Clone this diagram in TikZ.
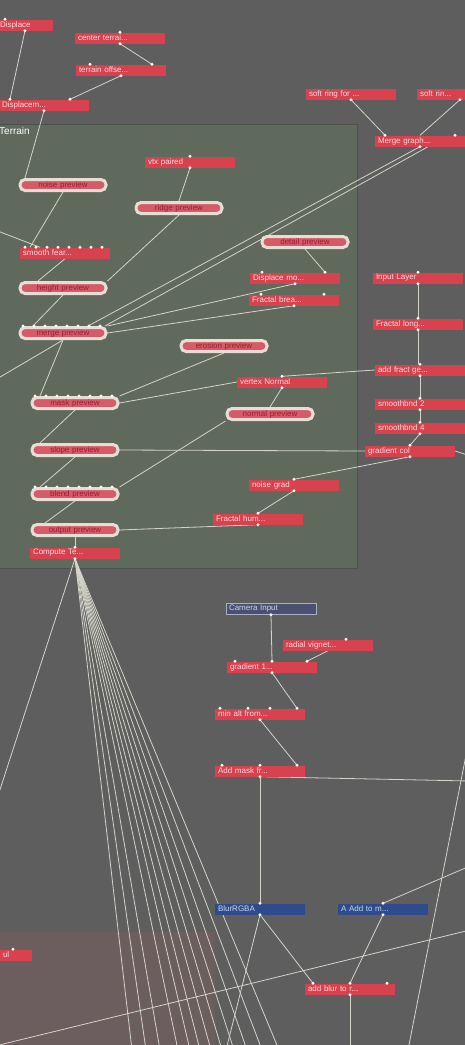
\documentclass[tikz,border=0pt]{standalone}
\usepackage{fontspec}
\setsansfont{Liberation Sans}
\usetikzlibrary{positioning}

\definecolor{bggray}{HTML}{5E5E5E}
\definecolor{terrainfill}{HTML}{5F6A5D}
\definecolor{terrainrim}{HTML}{4C524B}
\definecolor{pinkzone}{HTML}{6C5D5E}
\definecolor{nodered}{HTML}{D8424F}
\definecolor{redtext}{HTML}{F7D9DB}
\definecolor{pillfill}{HTML}{D65B68}
\definecolor{pilltext}{HTML}{9C1C33}
\definecolor{pillrim}{HTML}{E6DED4}
\definecolor{wirecol}{HTML}{D4D4CA}
\definecolor{blurblue}{HTML}{2E4C8C}
\definecolor{bluetext}{HTML}{CAD5F2}
\definecolor{camfill}{HTML}{4B5070}
\definecolor{camrim}{HTML}{A9AECB}

\pgfdeclarelayer{frames}
\pgfdeclarelayer{wires}
\pgfsetlayers{frames,wires,main}

\tikzset{
  wire/.style={draw=wirecol, line width=0.8pt},
  rednode/.style={fill=nodered, text=redtext, font=\sffamily\fontsize{8}{9}\selectfont,
    text width=84pt, inner xsep=3pt, inner ysep=1.5pt, minimum height=11pt, align=left},
  pillnode/.style={rednode, fill=pillfill, text=pilltext, draw=pillrim, line width=3pt,
    rounded corners=5pt, text width=80pt, align=center},
  bluenode/.style={rednode, fill=blurblue, text=bluetext},
  camnode/.style={rednode, fill=camfill, draw=camrim, text=bluetext, line width=0.6pt},
  port/.style={fill=white!92!pink}
}

\begin{document}
\begin{tikzpicture}[x=1pt,y=-1pt]
  \useasboundingbox (0,0) rectangle (465,1045);
  \clip (0,0) rectangle (465,1045);

  % frames
  \begin{pgfonlayer}{frames}
    \fill[bggray] (0,0) rectangle (465,1045);
    \fill[pinkzone] (-5,932) rectangle (215,1050);
    \filldraw[fill=terrainfill, draw=terrainrim, line width=1pt] (-5,124) rectangle (357,568);
  \end{pgfonlayer}
  \node[anchor=west, text=white, font=\sffamily\fontsize{10}{11}\selectfont, inner sep=0pt] (terrainLabel) at (-1,131) {Terrain};

  % top nodes
  \node[rednode, text width=50pt] (displace) at (25,25) {Displace};
  \node[rednode] (centerTerrain) at (120,38) {center terrai...};
  \node[rednode] (terrainOffset) at (121,70) {terrain offse...};
  \node[rednode] (displacem) at (44,105) {Displacem...};
  \node[rednode] (softRingA) at (351,94) {soft ring for ...};
  \node[rednode] (softRingB) at (462,94) {soft rin...};
  \node[rednode] (mergeGraph) at (420,141) {Merge graph...};

  % terrain group
  \node[rednode] (vtxPaired) at (190,162) {vtx paired};
  \node[pillnode] (pNoise) at (63,185) {noise preview};
  \node[pillnode] (pRidge) at (179,208) {ridge preview};
  \node[pillnode] (pDetail) at (305,242) {detail preview};
  \node[rednode] (smoothFear) at (65,253) {smooth fear...};
  \node[rednode] (displaceMo) at (295,278) {Displace mo...};
  \node[pillnode] (pHeight) at (63,288) {height preview};
  \node[rednode] (fractalBrea) at (294,300) {Fractal brea...};
  \node[pillnode] (pMerge) at (63,333) {merge preview};
  \node[pillnode] (pErosion) at (224,346) {erosion preview};
  \node[rednode] (vertexNormal) at (282,382) {vertex Normal};
  \node[pillnode] (pMask) at (75,403) {mask preview};
  \node[pillnode] (pNormal) at (270,414) {normal preview};
  \node[pillnode] (pSlope) at (75,450) {slope preview};
  \node[rednode] (noiseGrad) at (294,485) {noise grad};
  \node[pillnode] (pBlend) at (75,494) {blend preview};
  \node[rednode] (fractalHum) at (258,519) {Fractal hum...};
  \node[pillnode] (pOutput) at (75,530) {output preview};
  \node[rednode] (computeTe) at (75,553) {Compute Te...};

  % right column
  \node[rednode] (inputLayer) at (418,278) {Input Layer};
  \node[rednode] (fractalLong) at (418,324) {Fractal long...};
  \node[rednode] (addFract) at (420,370) {add fract ge...};
  \node[rednode] (smoothBndTwo) at (420,404) {smoothbnd 2};
  \node[rednode] (smoothBndFour) at (420,428) {smoothbnd 4};
  \node[rednode] (gradientCol) at (410,451) {gradient col};

  % lower nodes
  \node[camnode] (camera) at (271,609) {Camera Input};
  \node[rednode] (radialVig) at (328,645) {radial vignet...};
  \node[rednode] (gradientOne) at (272,667) {gradient 1...};
  \node[rednode] (minAlt) at (260,714) {min alt from...};
  \node[rednode] (addMask) at (260,771) {Add mask fr...};
  \node[bluenode] (blurRGBA) at (260,909) {BlurRGBA};
  \node[bluenode] (addToM) at (383,909) {A Add to m...};
  \node[rednode] (addBlur) at (350,989) {add blur to r...};
  \node[rednode, text width=26pt] (leftCut) at (16,955) {ul};

  % free ends
  \coordinate (inA) at (-5,230);
  \coordinate (inB) at (-5,380);
  \coordinate (inC) at (470,358);
  \coordinate (outB) at (470,456);
  \coordinate (outC) at (-5,805);
  \coordinate (outD) at (470,781);
  \coordinate (outE) at (226,1050);
  \coordinate (outF) at (470,866);
  \coordinate (outG) at (350,1050);
  \coordinate (lineA) at (468,745);
  \coordinate (lineB) at (408,1050);
  \coordinate (lineC) at (-5,1046);
  \coordinate (lineD) at (470,930);

  \begin{pgfonlayer}{wires}
    % top
    \draw[wire] (displace.south) -- ([xshift=-34pt]displacem.north);
    \draw[wire] (centerTerrain.south) -- ([xshift=31pt]terrainOffset.north);
    \draw[wire] (terrainOffset.south) -- ([xshift=26pt]displacem.north);
    \draw[wire] (displacem.south) -- ([xshift=-38pt]pNoise.north);
    \draw[wire] (softRingA.south) -- ([xshift=-35pt]mergeGraph.north);
    \draw[wire] ([xshift=-2pt]softRingB.south) -- (mergeGraph.north);
    \draw[wire] (mergeGraph.south) -- ([xshift=25pt]pMerge.north);
    \draw[wire] ([xshift=8pt]mergeGraph.south) -- ([xshift=42pt]pMerge.north);
    % terrain
    \draw[wire] (inA) -- ([xshift=-25pt]smoothFear.north);
    \draw[wire] (pNoise.south) -- ([xshift=-35pt]smoothFear.north);
    \draw[wire] (vtxPaired.south) -- (pRidge.north);
    \draw[wire] (pRidge.south) -- (pHeight.north east);
    \draw[wire] (smoothFear.south) -- ([xshift=-25pt]pHeight.north);
    \draw[wire] (pDetail.south) -- ([xshift=30pt]displaceMo.north);
    \draw[wire] (displaceMo.south) -- (pMerge.north east);
    \draw[wire] (fractalBrea.south) -- (pMerge.east);
    \draw[wire] (pHeight.south) -- ([xshift=-30pt]pMerge.north);
    \draw[wire] (inB) -- (pMerge.south);
    \draw[wire] (pMerge.south) -- ([xshift=-35pt]pMask.north);
    \draw[wire] (pErosion.south) -- (pMask.north east);
    \draw[wire] (vertexNormal.west) -- (pMask.east);
    \draw[wire] (addFract.west) -- (vertexNormal.north);
    \draw[wire] (inC) -- (addFract.east);
    \draw[wire] (vertexNormal.south) -- (pNormal.north);
    \draw[wire] (pNormal.south west) -- (pBlend.north east);
    \draw[wire] (pMask.south) -- ([xshift=-35pt]pSlope.north);
    \draw[wire] (pSlope.east) -- (gradientCol.west);
    \draw[wire] (gradientCol.east) -- (outB);
    \draw[wire] (pSlope.south) -- ([xshift=-35pt]pBlend.north);
    \draw[wire] (pBlend.south) -- ([xshift=-30pt]pOutput.north);
    \draw[wire] (pOutput.east) -- (fractalHum.south);
    \draw[wire] (pOutput.south) -- (computeTe.north);
    % right column
    \draw[wire] (inputLayer.south) -- (fractalLong.north);
    \draw[wire] (fractalLong.south) -- ([xshift=-2pt]addFract.north);
    \draw[wire] (addFract.south) -- (smoothBndTwo.north);
    \draw[wire] (smoothBndTwo.south) -- (smoothBndFour.north);
    \draw[wire] (smoothBndFour.south) -- (gradientCol.north);
    \draw[wire] (gradientCol.south) -- (noiseGrad.north);
    \draw[wire] (noiseGrad.south) -- (fractalHum.north);
    % fan out of the terrain
    \draw[wire] (computeTe.south) -- (outC);
    \foreach \x in {132,146,160,178,190,200,211,222,234,247,262,279} {
      \coordinate (fan\x) at (\x,1050);
      \draw[wire] (computeTe.south) -- (fan\x);
    }
    % lower graph
    \draw[wire] (camera.south) -- (gradientOne.north);
    \draw[wire] (radialVig.south) -- ([xshift=35pt]gradientOne.north);
    \draw[wire] (gradientOne.south) -- ([xshift=37pt]minAlt.north);
    \draw[wire] (minAlt.south) -- ([xshift=37pt]addMask.north);
    \draw[wire] (addMask.south) -- (blurRGBA.north);
    \draw[wire] (addMask.south) -- (outD);
    \draw[wire] (blurRGBA.south) -- ([xshift=-37pt]addBlur.north);
    \draw[wire] (blurRGBA.south) -- (outE);
    \draw[wire] (addToM.south) -- (addBlur.north);
    \draw[wire] (addToM.north) -- (outF);
    \draw[wire] (addBlur.south) -- (outG);
    \draw[wire] (lineA) -- (lineB);
    \draw[wire] (lineC) -- (lineD);
  \end{pgfonlayer}

  % ports
  \foreach \n/\s in {displacem/-34, displacem/26, terrainOffset/-31, terrainOffset/31,
      centerTerrain/0, mergeGraph/-35, mergeGraph/35, vtxPaired/0, displaceMo/-33,
      displaceMo/30, fractalBrea/-33, fractalBrea/30, vertexNormal/0, noiseGrad/0,
      fractalHum/0, computeTe/0, inputLayer/0, fractalLong/0, addFract/0,
      smoothBndTwo/0, smoothBndFour/0, gradientCol/0, gradientOne/-37, gradientOne/0,
      gradientOne/35, minAlt/-40, minAlt/-12, minAlt/10, minAlt/37, addMask/-38,
      addMask/0, addMask/37, blurRGBA/0, addToM/0, addBlur/-37, addBlur/0, addBlur/37,
      radialVig/18, displace/-20, leftCut/-3}
    \fill[port] ([xshift=\s pt]\n.north) circle (1.6pt);
  \foreach \n/\s in {displace/0, centerTerrain/0, terrainOffset/0, displacem/0,
      softRingA/0, softRingB/-2, mergeGraph/0, vtxPaired/0, displaceMo/0, fractalBrea/0,
      vertexNormal/0, noiseGrad/0, fractalHum/0, computeTe/0, inputLayer/0,
      fractalLong/0, addFract/0, smoothBndTwo/0, smoothBndFour/0, gradientCol/0,
      camera/0, gradientOne/0, minAlt/0, addMask/0, blurRGBA/0, addToM/0, addBlur/0}
    \fill[port] ([xshift=\s pt]\n.south) circle (1.6pt);
  \foreach \n in {smoothFear, pMerge, pMask, pBlend}
    \foreach \s in {-40,-29,-18,-7,4,15,26,37}
      \fill[port] ([xshift=\s pt]\n.north) circle (1.6pt);
\end{tikzpicture}
\end{document}
